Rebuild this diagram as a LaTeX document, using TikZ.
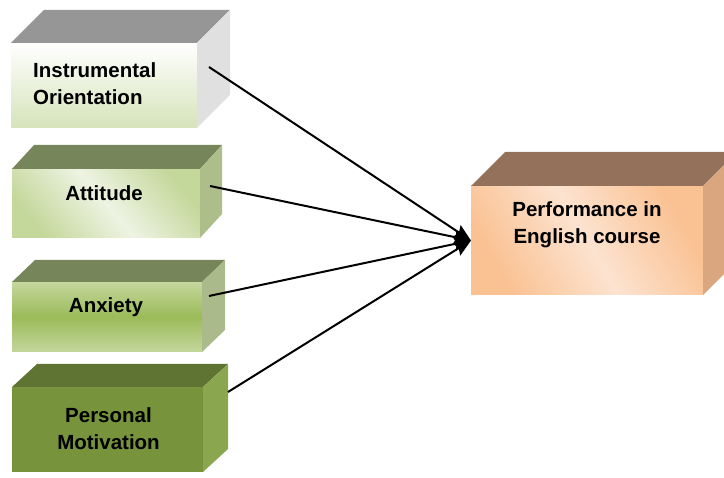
\documentclass[tikz,border=0pt]{standalone}
\usepackage{fontspec}
\setmainfont{Liberation Sans}
\usetikzlibrary{calc, arrows.meta}

% colours of the blocks
\definecolor{instrLight}{HTML}{FFFFFF}
\definecolor{instrDark}{HTML}{D6E3BA}
\definecolor{instrTop}{HTML}{969696}
\definecolor{instrSide}{HTML}{E0E0E0}
\definecolor{attLight}{HTML}{EEF3E3}
\definecolor{attDark}{HTML}{C5D89C}
\definecolor{attTop}{HTML}{76865A}
\definecolor{attSide}{HTML}{AEBE8A}
\definecolor{anxLight}{HTML}{C4D79D}
\definecolor{anxDark}{HTML}{9BBB59}
\definecolor{anxTop}{HTML}{76865A}
\definecolor{anxSide}{HTML}{ABBA8A}
\definecolor{motFront}{HTML}{77933C}
\definecolor{motTop}{HTML}{5F7432}
\definecolor{motSide}{HTML}{8AA64E}
\definecolor{perfLight}{HTML}{FCE3D0}
\definecolor{perfDark}{HTML}{FAC192}
\definecolor{perfTop}{HTML}{93715A}
\definecolor{perfSide}{HTML}{D9A67F}

% top and right faces of a block: node, dx, dy, top colour, side colour
\newcommand{\cubefaces}[5]{%
  \fill[#4] (#1.north west) -- ++(#2,#3) -- ($(#1.north east)+(#2,#3)$) -- (#1.north east) -- cycle;
  \fill[#5] (#1.north east) -- ++(#2,#3) -- ($(#1.south east)+(#2,#3)$) -- (#1.south east) -- cycle;
}

\begin{document}
\begin{tikzpicture}[x=1pt, y=-1pt, >={Stealth[length=17pt, width=14pt, inset=2.5pt]},
    face/.style={inner sep=0pt, outer sep=0pt},
    boxtext/.style={font=\bfseries\fontsize{20.5}{27}\selectfont, align=center, inner sep=0pt},
    link/.style={->, line width=2pt}]
    \useasboundingbox (0,0) rectangle (724,478);
    \clip (0,0) rectangle (724,478);

    % Front faces
    \node [face, minimum width=186pt, minimum height=85pt, top color=instrLight, bottom color=instrDark] (instr) at (104,85.5) {};
    \node [face, minimum width=188pt, minimum height=69pt, top color=attDark, bottom color=attDark, middle color=attLight, shading angle=-50] (att) at (106,203.5) {};
    \node [face, minimum width=190pt, minimum height=70pt, top color=anxLight, bottom color=anxLight, middle color=anxDark] (anx) at (107,317) {};
    \node [face, minimum width=191pt, minimum height=85pt, fill=motFront] (mot) at (107.5,429.5) {};
    \node [face, minimum width=232pt, minimum height=109pt, top color=perfDark, bottom color=perfDark, middle color=perfLight, shading angle=-60] (perf) at (587,240.5) {};

    % Top and side faces
    \cubefaces{instr}{33}{-33}{instrTop}{instrSide}
    \cubefaces{att}{22}{-24}{attTop}{attSide}
    \cubefaces{anx}{23}{-22}{anxTop}{anxSide}
    \cubefaces{mot}{25}{-23}{motTop}{motSide}
    \cubefaces{perf}{34}{-34}{perfTop}{perfSide}

    % Labels
    \node [boxtext, anchor=west, align=left] (instr-text) at ($(instr.west)+(22,-2)$) {Instrumental\\Orientation};
    \node [boxtext] (att-text) at ($(att)+(-2,-10)$) {Attitude};
    \node [boxtext] (anx-text) at ($(anx)+(-1,-10)$) {Anxiety};
    \node [boxtext] (mot-text) at ($(mot)+(1,-1)$) {Personal\\Motivation};
    \node [boxtext] (perf-text) at ($(perf)+(0,-16)$) {Performance in\\English course};

    % Connections
    \coordinate (instr-out) at ($(instr.east)+(12,-18.5)$);
    \coordinate (att-out) at ($(att.east)+(10,-17.5)$);
    \coordinate (anx-out) at ($(anx.east)+(7,-21)$);
    \coordinate (mot-out) at ($(mot.east)+(25,-37.5)$);
    \draw [link] (instr-out) -- (perf.west);
    \draw [link] (att-out) -- (perf.west);
    \draw [link] (anx-out) -- (perf.west);
    \draw [link] (mot-out) -- (perf.west);
\end{tikzpicture}
\end{document}
